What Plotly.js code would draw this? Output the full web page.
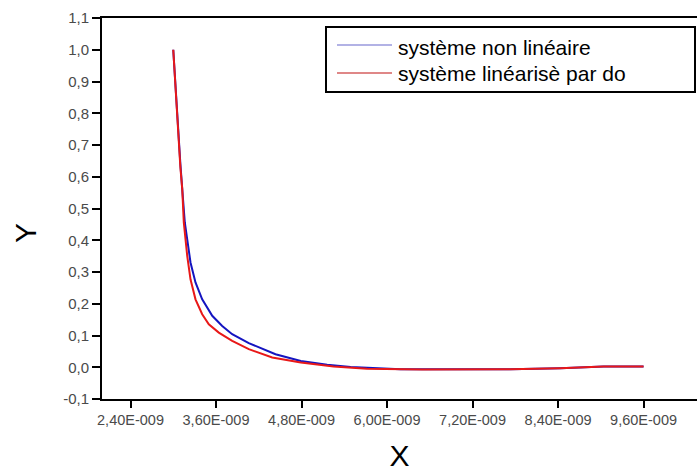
<!DOCTYPE html>
<html>
<head>
<meta charset="utf-8">
<script src="https://cdn.plot.ly/plotly-3.0.1.min.js"></script>
<style>
  html, body { margin: 0; padding: 0; background: #fff; }
  #chart { width: 697px; height: 473px; }
</style>
</head>
<body>
<div id="chart"></div>
<script>
// Time values are given in nanoseconds and converted to seconds below.
const NS = 1e-9;

// Non-linear system response
const nonLinT = [3.00, 3.05, 3.10, 3.126, 3.162, 3.196, 3.242, 3.312, 3.406, 3.547, 3.687, 3.827, 4.06, 4.435, 4.79, 5.16, 5.49, 6.19, 7.00, 7.73, 8.43, 9.04, 9.60];
const nonLinY = [1.00, 0.81, 0.64, 0.561, 0.456, 0.403, 0.330, 0.267, 0.214, 0.162, 0.130, 0.104, 0.076, 0.041, 0.020, 0.008, 0.001, -0.006, -0.007, -0.006, -0.003, 0.002, 0.002];

// Linearised system response
const linT = [3.00, 3.05, 3.10, 3.126, 3.148, 3.196, 3.242, 3.312, 3.406, 3.499, 3.639, 3.827, 4.06, 4.389, 4.79, 5.25, 5.72, 6.50, 7.73, 8.43, 9.04, 9.60];
const linY = [1.00, 0.80, 0.63, 0.561, 0.456, 0.351, 0.277, 0.214, 0.167, 0.135, 0.109, 0.083, 0.057, 0.031, 0.015, 0.002, -0.005, -0.007, -0.006, -0.003, 0.002, 0.002];

const seriesNames = ['système non linéaire', 'système linéarisè par do'];
const seriesColors = ['#1414c0', '#e81818'];
const legendColors = ['#6666cc', '#c01010'];

// Axis ticks
const xTickVals = [2.4, 3.6, 4.8, 6.0, 7.2, 8.4, 9.6];
const xTickText = ['2,40E-009', '3,60E-009', '4,80E-009', '6,00E-009', '7,20E-009', '8,40E-009', '9,60E-009'];
const yTickVals = [-0.1, 0.0, 0.1, 0.2, 0.3, 0.4, 0.5, 0.6, 0.7, 0.8, 0.9, 1.0, 1.1];
const yTickText = ['-0,1', '0,0', '0,1', '0,2', '0,3', '0,4', '0,5', '0,6', '0,7', '0,8', '0,9', '1,0', '1,1'];

const toSec = a => a.map(v => v * NS);

const traces = [
  {
    x: toSec(nonLinT), y: nonLinY, name: seriesNames[0],
    type: 'scatter', mode: 'lines',
    line: { color: seriesColors[0], width: 2 }
  },
  {
    x: toSec(linT), y: linY, name: seriesNames[1],
    type: 'scatter', mode: 'lines',
    line: { color: seriesColors[1], width: 2 }
  }
];

// Plot area in pixels, used to place the boxed key in paper coordinates
const W = 697, H = 473;
const M = { l: 102, r: 0, t: 18, b: 74 };
const px = x => (x - M.l) / (W - M.l - M.r);
const py = y => (H - M.b - y) / (H - M.t - M.b);

const FONT = 'Liberation Sans, Arial, sans-serif';

// Boxed key: frame, two line samples and their labels
const keyBox = { x0: 326, x1: 695, y0: 27, y1: 92 };
const keyRows = [45, 73];
const shapes = [
  {
    type: 'rect', xref: 'paper', yref: 'paper',
    x0: px(keyBox.x0), x1: px(keyBox.x1), y0: py(keyBox.y1), y1: py(keyBox.y0),
    line: { color: '#000', width: 2 }, fillcolor: '#fff', layer: 'above'
  }
];
const annotations = [];
seriesNames.forEach((name, i) => {
  shapes.push({
    type: 'line', xref: 'paper', yref: 'paper',
    x0: px(337), x1: px(392), y0: py(keyRows[i]), y1: py(keyRows[i]),
    line: { color: legendColors[i], width: 1.2 }, layer: 'above'
  });
  annotations.push({
    text: name, xref: 'paper', yref: 'paper',
    x: px(396), y: py(keyRows[i] + (i === 0 ? 2 : 0)), xanchor: 'left', yanchor: 'middle',
    showarrow: false,
    font: { family: FONT, size: 21, color: '#000' }
  });
});

annotations.push({
  text: 'Y', textangle: -90,
  xref: 'paper', yref: 'paper',
  x: px(25), y: py(233), xanchor: 'center', yanchor: 'middle',
  showarrow: false,
  font: { family: FONT, size: 30, color: '#000' }
});

const layout = {
  width: W, height: H,
  margin: M,
  paper_bgcolor: '#fff', plot_bgcolor: '#fff',
  showlegend: false,
  xaxis: {
    range: [2.0 * NS, 10.35 * NS],
    tickvals: toSec(xTickVals), ticktext: xTickText,
    ticks: 'outside', ticklen: 7, tickwidth: 2, tickcolor: '#000',
    showline: true, linecolor: '#000', linewidth: 2, mirror: true,
    showgrid: false, zeroline: false,
    tickfont: { family: FONT, size: 14.5, color: '#4a4a4a' },
    title: { text: 'X', font: { family: FONT, size: 30, color: '#000' }, standoff: 18 }
  },
  yaxis: {
    range: [-0.1, 1.1],
    tickvals: yTickVals, ticktext: yTickText,
    ticks: 'outside', ticklen: 8, tickwidth: 2, tickcolor: '#000',
    showline: true, linecolor: '#000', linewidth: 2,
    showgrid: false, zeroline: false,
    tickfont: { family: FONT, size: 15, color: '#4a4a4a' }
  },
  shapes: shapes,
  annotations: annotations
};

Plotly.newPlot('chart', traces, layout, { staticPlot: true, displayModeBar: false });
</script>
</body>
</html>
